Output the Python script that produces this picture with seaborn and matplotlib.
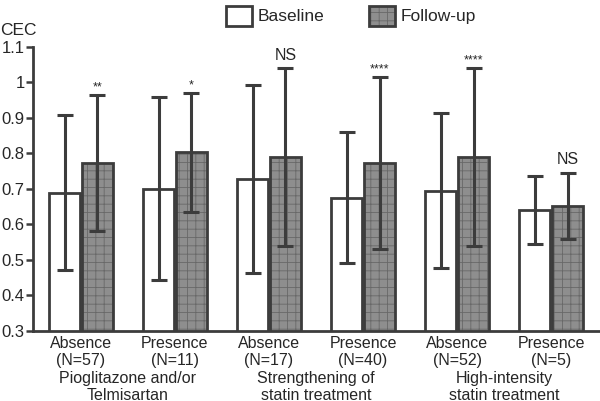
import pandas as pd
import numpy as np
import matplotlib
matplotlib.use("Agg")
import matplotlib.pyplot as plt
import matplotlib.transforms as mtransforms
import matplotlib.colors as mcolors
from matplotlib.patches import Patch
import seaborn as sns

#%% dados
subgrupos = ["Absence\n(N=57)", "Presence\n(N=11)", "Absence\n(N=17)",
             "Presence\n(N=40)", "Absence\n(N=52)", "Presence\n(N=5)"]
baseline_media = [0.689, 0.700, 0.728, 0.675, 0.695, 0.640]
baseline_dp = [0.218, 0.258, 0.266, 0.185, 0.219, 0.095]
followup_media = [0.773, 0.803, 0.790, 0.773, 0.790, 0.652]
followup_dp = [0.192, 0.167, 0.250, 0.242, 0.250, 0.094]
significancia = ["**", "*", "NS", "****", "****", "NS"]
grupos = ["Pioglitazone and/or\nTelmisartan", "Strengthening of\nstatin treatment",
          "High-intensity\nstatin treatment"]

df = pd.DataFrame({
    "Subgrupo": subgrupos * 2,
    "Tempo": ["Baseline"] * 6 + ["Follow-up"] * 6,
    "CEC": baseline_media + followup_media,
    "DP": baseline_dp + followup_dp,
})

#%% estilo
sns.set_style("ticks")
plt.rcParams["font.family"] = ["Liberation Sans", "DejaVu Sans"]
plt.rcParams["hatch.linewidth"] = 0.6
escuro = "#3c3c3c"
cinza = "#8e8e8e"
cor_hatch = mcolors.to_rgba("#686868")

fig = plt.figure(figsize=(6, 4.01), dpi=100)
ax = fig.add_axes([0.055, 0.175, 0.945, 0.708])

sns.barplot(data=df, x="Subgrupo", y="CEC", hue="Tempo", order=subgrupos,
            hue_order=["Baseline", "Follow-up"],
            palette={"Baseline": "white", "Follow-up": cinza},
            width=0.7, gap=0.06, errorbar=None, edgecolor=escuro,
            linewidth=2.0, legend=False, ax=ax)

for patch in ax.containers[1]:
    patch.set_hatch("++")
    patch._hatch_color = cor_hatch

# barras de erro (media +- dp) e marcas de significancia
for cont, dps in zip(ax.containers, [baseline_dp, followup_dp]):
    xs = [p.get_x() + p.get_width() / 2 for p in cont]
    ys = [p.get_height() for p in cont]
    ax.errorbar(xs, ys, yerr=dps, fmt="none", ecolor=escuro,
                elinewidth=2.2, capsize=5.5, capthick=2.2, zorder=5)

for p, dp, txt in zip(ax.containers[1], followup_dp, significancia):
    x = p.get_x() + p.get_width() / 2
    topo = p.get_height() + dp
    if txt == "NS":
        ax.annotate(txt, (x, topo), xytext=(0, 4), textcoords="offset points",
                    ha="center", va="bottom", fontsize=11.5)
    else:
        ax.annotate(txt, (x, topo), xytext=(0, 1), textcoords="offset points",
                    ha="center", va="bottom", fontsize=9)

ax.set_ylim(0.3, 1.1)
ax.set_xlim(-0.51, 5.52)
ax.set_yticks([0.3, 0.4, 0.5, 0.6, 0.7, 0.8, 0.9, 1.0, 1.1])
ax.set_yticklabels(["0.3", "0.4", "0.5", "0.6", "0.7", "0.8", "0.9", "1", "1.1"])
ax.tick_params(axis="y", labelsize=12, length=5, width=1.8, color=escuro, pad=1)
ax.tick_params(axis="x", labelsize=11.5, length=0, pad=4)
for lab in ax.get_xticklabels():
    lab.set_linespacing(1.1)
ax.set_xlabel("")
ax.set_ylabel("")
sns.despine(ax=ax)
for s in ["left", "bottom"]:
    ax.spines[s].set_linewidth(2.0)
    ax.spines[s].set_color(escuro)

fig.text(0.0, 0.905, "CEC", fontsize=12.5, ha="left", va="bottom")

# rotulos dos grupos
trans = mtransforms.blended_transform_factory(ax.transData, fig.transFigure)
for i, g in enumerate(grupos):
    ax.text(2 * i + 0.5, 0.074, g, transform=trans, ha="center", va="top",
            fontsize=11.5, linespacing=1.1)

h_follow = Patch(facecolor=cinza, edgecolor=escuro, linewidth=2.0, hatch="++")
h_follow._hatch_color = cor_hatch
handles = [Patch(facecolor="white", edgecolor=escuro, linewidth=2.0), h_follow]
leg = fig.legend(handles, ["Baseline", "Follow-up"], loc="upper center",
                 bbox_to_anchor=(0.585, 1.025), ncol=2, frameon=False, fontsize=12.5,
                 handlelength=1.5, handleheight=1.4, columnspacing=2.6,
                 handletextpad=0.3)
for h in leg.legend_handles[1:]:
    h._hatch_color = cor_hatch

fig.savefig("out.png", dpi=100)
